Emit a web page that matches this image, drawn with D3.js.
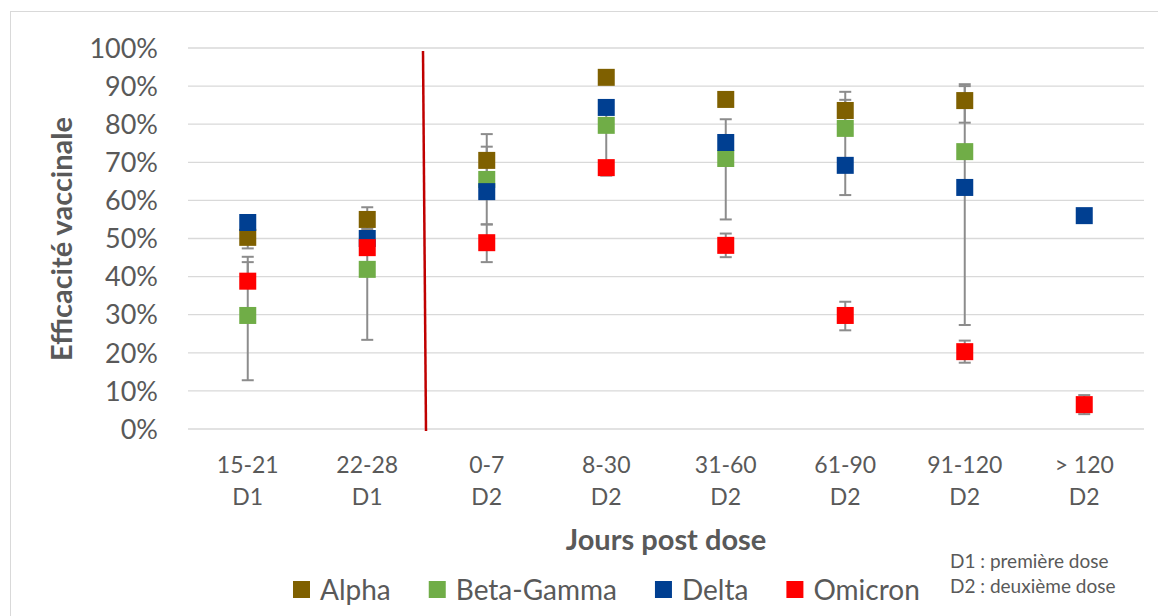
<!DOCTYPE html>
<meta charset="utf-8">
<script src="https://cdn.jsdelivr.net/npm/d3@7"></script>

<style>
body {margin: 0; background: white;}
svg text {font-family: Lato, "Open Sans", sans-serif; fill: #595959;}
.grid line {stroke: #d9d9d9; stroke-width: 1.3px;}
.err line {stroke: #8c8c8c; stroke-width: 2px;}
</style>

<svg width="1158" height="616"></svg>

<script>
// categories and values (in %)
var categories = ["15-21", "22-28", "0-7", "8-30", "31-60", "61-90", "91-120", "> 120"];
var doses = ["D1", "D1", "D2", "D2", "D2", "D2", "D2", "D2"];
var yTicks = [0, 10, 20, 30, 40, 50, 60, 70, 80, 90, 100];

var alpha     = [50.3, 55.0, 70.5, 92.3, 86.5, 83.6, 86.2, null];
var alphaLow  = [47.4, 52.5, 66.0, null, null, 80.0, 80.4, null];
var alphaHigh = [53.0, 58.2, 77.4, null, null, 88.5, 90.5, null];

var beta      = [29.8, 41.9, 65.5, 79.7, 71.0, 78.9, 72.8, null];
var betaLow   = [12.8, 23.4, 61.0, 70.0, 55.0, 70.0, 62.0, null];
var betaHigh  = [45.2, 50.0, 74.1, 83.0, 74.0, 86.4, 90.0, null];

var delta     = [54.2, 50.0, 62.3, 84.4, 75.2, 69.2, 63.4, 56.0];
var deltaLow  = [null, null, 53.7, null, 70.0, 61.4, 27.3, null];
var deltaHigh = [null, null, 66.0, null, 81.3, 70.0, 64.0, null];

var omicron   = [38.8, 47.6, 48.9, 68.6, 48.2, 29.8, 20.3, 6.4];
var omiLow    = [37.0, 46.0, 43.8, 66.5, 45.1, 25.9, 17.4, 3.9];
var omiHigh   = [43.8, 50.0, 53.7, 70.0, 51.3, 33.4, 23.2, 8.9];

var series = [
  {name: "Alpha", color: "#7f6000", values: alpha, low: alphaLow, high: alphaHigh},
  {name: "Beta-Gamma", color: "#70ad47", values: beta, low: betaLow, high: betaHigh},
  {name: "Delta", color: "#003f91", values: delta, low: deltaLow, high: deltaHigh},
  {name: "Omicron", color: "#ff0000", values: omicron, low: omiLow, high: omiHigh}
];

var svg = d3.select("svg");

// chart frame
svg.append("rect")
    .attr("x", 10.5).attr("y", 11.5)
    .attr("width", 1160).attr("height", 640)
    .attr("fill", "none").attr("stroke", "#d9d9d9");

var x = d3.scaleBand().domain(categories).range([188, 1144]);
var y = d3.scaleLinear().domain([0, 100]).range([429, 48]);

// gridlines
svg.append("g").attr("class", "grid")
  .selectAll("line").data(yTicks).enter().append("line")
    .attr("x1", 188).attr("x2", 1144)
    .attr("y1", function(d) { return y(d); })
    .attr("y2", function(d) { return y(d); });

// y labels
svg.append("g")
  .selectAll("text").data(yTicks).enter().append("text")
    .attr("x", 158)
    .attr("y", function(d) { return y(d); })
    .attr("dy", "0.36em")
    .attr("text-anchor", "end")
    .style("font-size", "27px")
    .text(function(d) { return d + "%"; });

// x labels (two lines)
var xl = svg.append("g")
  .selectAll("g").data(categories).enter().append("g")
    .attr("transform", function(d) {
      return "translate(" + (x(d) + x.bandwidth() / 2) + ",0)";
    });
xl.append("text")
    .attr("y", 473).attr("text-anchor", "middle")
    .style("font-size", "23px")
    .text(function(d) { return d; });
xl.append("text")
    .attr("y", 505).attr("text-anchor", "middle")
    .style("font-size", "23px")
    .text(function(d, i) { return doses[i]; });

// axis titles
svg.append("text")
    .attr("transform", "translate(72,239) rotate(-90)")
    .attr("text-anchor", "middle")
    .style("font-size", "29px").style("font-weight", "bold")
    .text("Efficacité vaccinale");

svg.append("text")
    .attr("x", (188 + 1144) / 2).attr("y", 550)
    .attr("text-anchor", "middle")
    .style("font-size", "29px").style("font-weight", "bold")
    .text("Jours post dose");

// separator between D1 and D2
var xs = x(categories[2]);
svg.append("line")
    .attr("x1", xs - 4).attr("y1", y(100) + 3)
    .attr("x2", xs - 1).attr("y2", y(0) + 2)
    .attr("stroke", "#c00000").attr("stroke-width", 2.5);

// error bars
var bars = [];
series.forEach(function(s) {
  s.values.forEach(function(v, i) {
    if (v != null && s.low[i] != null) {
      bars.push({cat: categories[i], low: s.low[i], high: s.high[i]});
    }
  });
});
var eb = svg.append("g").attr("class", "err")
  .selectAll("g").data(bars).enter().append("g")
    .attr("transform", function(d) {
      return "translate(" + (x(d.cat) + x.bandwidth() / 2) + ",0)";
    });
eb.append("line")
    .attr("y1", function(d) { return y(d.low); })
    .attr("y2", function(d) { return y(d.high); });
eb.append("line")
    .attr("x1", -6).attr("x2", 6)
    .attr("y1", function(d) { return y(d.low); })
    .attr("y2", function(d) { return y(d.low); });
eb.append("line")
    .attr("x1", -6).attr("x2", 6)
    .attr("y1", function(d) { return y(d.high); })
    .attr("y2", function(d) { return y(d.high); });

// markers
var ms = 17;
series.forEach(function(s) {
  svg.append("g")
    .selectAll("rect")
    .data(s.values.map(function(v, i) { return {cat: categories[i], v: v}; })
                  .filter(function(d) { return d.v != null; }))
    .enter().append("rect")
      .attr("x", function(d) { return x(d.cat) + x.bandwidth() / 2 - ms / 2; })
      .attr("y", function(d) { return y(d.v) - ms / 2; })
      .attr("width", ms).attr("height", ms)
      .attr("fill", s.color);
});

// legend
var lx = 293;
series.forEach(function(s) {
  svg.append("rect")
      .attr("x", lx).attr("y", 581)
      .attr("width", 17).attr("height", 17)
      .attr("fill", s.color);
  var t = svg.append("text")
      .attr("x", lx + 27).attr("y", 600)
      .style("font-size", "28px")
      .text(s.name);
  lx += 27 + t.node().getComputedTextLength() + 38;
});

// dose note
svg.append("text")
    .attr("x", 950).attr("y", 568)
    .style("font-size", "19px")
    .text("D1 : première dose");
svg.append("text")
    .attr("x", 950).attr("y", 593)
    .style("font-size", "19px")
    .text("D2 : deuxième dose");
</script>
